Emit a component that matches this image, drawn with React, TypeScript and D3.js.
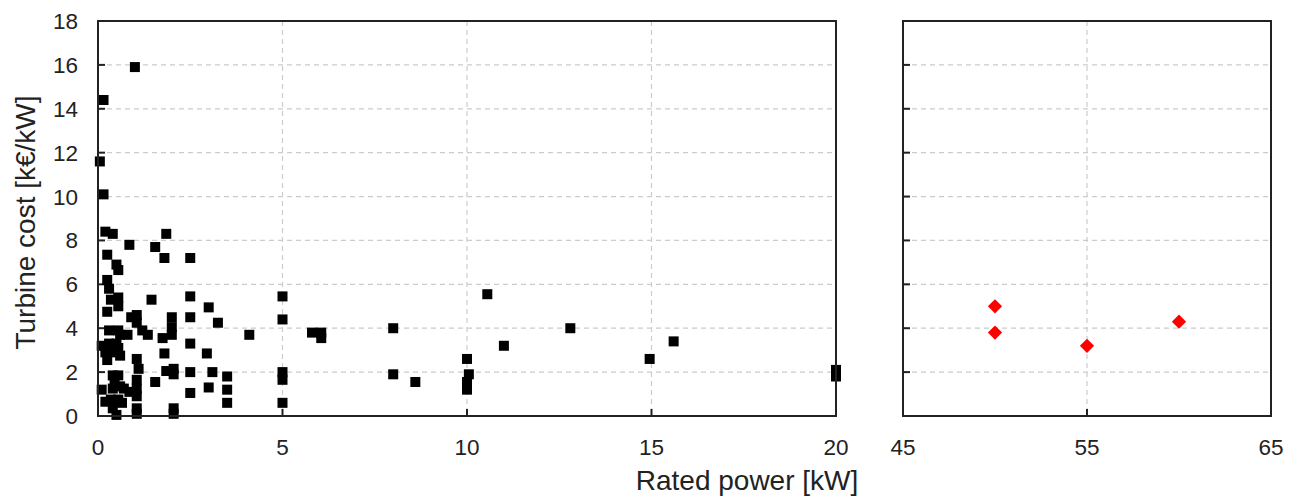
import React from 'react';
import * as d3 from 'd3';

// small turbines (rated power in kW, cost in k€/kW)
const smallPower = [
  1.0, 0.15, 0.05, 0.15,
  0.2, 0.4, 0.85, 1.85, 1.55, 1.8, 2.5, 0.25, 0.5, 0.55, 0.25, 0.3, 0.35, 0.55, 1.45, 2.5,
  3.0, 0.55, 0.25, 0.9, 1.05, 1.05, 2.0, 2.5, 3.25, 1.2, 1.35, 0.8, 0.3, 0.55, 0.6, 2.0,
  2.0, 1.75, 4.1, 0.1, 0.3, 0.5, 0.55, 0.2, 0.35, 0.25, 0.6, 2.5, 1.8, 2.95, 1.05, 1.1,
  1.85, 2.05, 2.05, 2.5, 3.1, 3.5, 1.55, 3.0, 2.5, 3.5, 3.5, 1.05, 1.05, 1.05, 1.05, 1.05,
  2.05, 2.05, 0.1, 0.4, 0.55, 0.45, 0.4, 0.6, 0.7, 0.85, 0.2, 0.35, 0.55, 0.65, 0.4, 0.5,
  5, 5, 5.8, 6.05, 6.05, 5, 5, 5, 8, 8, 8.6, 10, 10.05, 10, 10, 10.55, 11, 12.8, 14.95,
  15.6, 20, 20,
];
const smallCost = [
  15.9, 14.4, 11.6, 10.1,
  8.4, 8.3, 7.8, 8.3, 7.7, 7.2, 7.2, 7.35, 6.9, 6.65, 6.2, 5.8, 5.3, 5.4, 5.3, 5.45,
  4.95, 5.0, 4.75, 4.5, 4.6, 4.25, 4.5, 4.5, 4.25, 3.9, 3.7, 3.7, 3.9, 3.9, 3.7, 4.05,
  3.7, 3.55, 3.7, 3.2, 3.3, 3.3, 3.1, 2.9, 2.9, 2.55, 2.75, 3.3, 2.85, 2.85, 2.6, 2.15,
  2.05, 2.15, 1.9, 2.0, 2.0, 1.8, 1.55, 1.3, 1.05, 1.2, 0.6, 1.65, 1.25, 0.9, 0.35, 0.1,
  0.35, 0.1, 1.2, 1.85, 1.85, 1.55, 1.25, 1.35, 1.25, 1.1, 0.65, 0.75, 0.75, 0.6, 0.35, 0.05,
  5.45, 4.4, 3.8, 3.8, 3.55, 2.0, 1.65, 0.6, 4.0, 1.9, 1.55, 2.6, 1.9, 1.55, 1.2, 5.55, 3.2, 4.0, 2.6,
  3.4, 2.1, 1.8,
];

// larger turbines
const largePower = [50, 50, 55, 60];
const largeCost = [5.0, 3.8, 3.2, 4.3];

const yTicks = [0, 2, 4, 6, 8, 10, 12, 14, 16, 18];
const leftXTicks = [0, 5, 10, 15, 20];
const rightXTicks = [45, 55, 65];

const FONT = 'Liberation Sans, Arial, sans-serif';

const App = () => {
  const top = 21;
  const bottom = 416;
  const y = d3.scaleLinear().domain([0, 18]).range([bottom, top]);
  const xL = d3.scaleLinear().domain([0, 20]).range([98, 836]);
  const xR = d3.scaleLinear().domain([45, 65]).range([903, 1271]);

  const grid = '#cccccc';
  const dash = '5,4';
  const sq = 10;
  const diamond = d3.symbol().type(d3.symbolDiamond2).size(130)();

  const panel = (x: d3.ScaleLinear<number, number>, xTicks: number[], vGrid: number[]) => (
    <g>
      {yTicks.filter(t => t > 0 && t < 18).map(t => (
        <line key={'h' + t} x1={x.range()[0]} x2={x.range()[1]} y1={y(t)} y2={y(t)}
          stroke={grid} strokeWidth={1.2} strokeDasharray={dash} />
      ))}
      {vGrid.map(t => (
        <line key={'v' + t} x1={x(t)} x2={x(t)} y1={top} y2={bottom}
          stroke={grid} strokeWidth={1.2} strokeDasharray={dash} />
      ))}
      {yTicks.filter(t => t > 0 && t < 18).map(t => (
        <line key={'yt' + t} x1={x.range()[0]} x2={x.range()[0] + 7} y1={y(t)} y2={y(t)}
          stroke="#222" strokeWidth={2} />
      ))}
      {vGrid.map(t => (
        <line key={'xt' + t} x1={x(t)} x2={x(t)} y1={bottom} y2={bottom - 7}
          stroke="#222" strokeWidth={2} />
      ))}
      {xTicks.map(t => (
        <text key={'xl' + t} x={x(t)} y={455} textAnchor="middle" fontSize={22.5}
          fontFamily={FONT} fill="#222">{t}</text>
      ))}
    </g>
  );

  return (
    <svg width={1296} height={496} style={{ position: 'absolute', left: 0, top: 0, background: '#fff' }}>
      {panel(xL, leftXTicks, [5, 10, 15])}
      {panel(xR, rightXTicks, [55])}

      {smallPower.map((p, i) => (
        <rect key={'s' + i} x={xL(p) - sq / 2} y={y(smallCost[i]) - sq / 2} width={sq} height={sq} fill="#000" />
      ))}
      {largePower.map((p, i) => (
        <path key={'l' + i} d={diamond} transform={`translate(${xR(p)},${y(largeCost[i])})`} fill="#ff0000" />
      ))}

      <rect x={98} y={top} width={836 - 98} height={bottom - top} fill="none" stroke="#222" strokeWidth={2} />
      <rect x={903} y={top} width={1271 - 903} height={bottom - top} fill="none" stroke="#222" strokeWidth={2} />

      {yTicks.map(t => (
        <text key={'yl' + t} x={78} y={y(t) + 8} textAnchor="end" fontSize={22.5}
          fontFamily={FONT} fill="#222">{t}</text>
      ))}

      <text transform={`translate(35,${(top + bottom) / 2 + 4}) rotate(-90)`} textAnchor="middle"
        fontSize={28} fontFamily={FONT} fill="#222">Turbine cost [k€/kW]</text>
      <text x={747} y={490} textAnchor="middle" fontSize={28} fontFamily={FONT} fill="#222">
        Rated power [kW]
      </text>
    </svg>
  );
};

export default App;
